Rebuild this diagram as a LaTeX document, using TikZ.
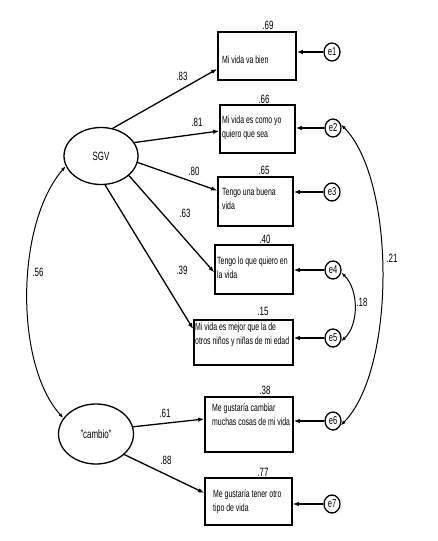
\documentclass[tikz,border=0pt]{standalone}
\usepackage{fontspec}
\setmainfont{Liberation Sans}[FakeStretch=0.66]
\usetikzlibrary{arrows.meta,shapes.geometric}
\tikzset{
  box/.style={draw, line width=1.6pt, rectangle, inner sep=0pt},
  itemtext/.style={anchor=west, align=left, inner sep=0pt, font=\fontsize{10.5}{13.5}\selectfont},
  latent/.style={draw, ellipse, line width=1.3pt, inner sep=0pt, font=\fontsize{12}{14}\selectfont},
  err/.style={draw, ellipse, line width=1.3pt, minimum width=16pt, minimum height=18pt, inner sep=0pt, font=\fontsize{11.5}{13}\selectfont},
  num/.style={inner sep=0pt, font=\fontsize{12}{14}\selectfont},
  arr/.style={-{Latex[length=6pt,width=4.5pt]}, line width=1.3pt},
  cov/.style={{Latex[length=5pt,width=3.5pt]}-{Latex[length=5pt,width=3.5pt]}, line width=1pt},
}
\begin{document}
\begin{tikzpicture}[x=1pt,y=-1pt]
\useasboundingbox (0,0) rectangle (437,541);
% boxes
\node[box, minimum width=78pt, minimum height=48pt] (b1) at (257,56) {};
\node[box, minimum width=75pt, minimum height=48pt] (b2) at (257.5,129) {};
\node[box, minimum width=75pt, minimum height=49pt] (b3) at (255.5,201.5) {};
\node[box, minimum width=78pt, minimum height=49pt] (b4) at (254,269.5) {};
\node[box, minimum width=99pt, minimum height=45pt] (b5) at (243.5,342.5) {};
\node[box, minimum width=88pt, minimum height=55pt] (b6) at (249,424.5) {};
\node[box, minimum width=87pt, minimum height=47pt] (b7) at (248.5,501.5) {};
% box texts
\node[itemtext] (t1) at (222,60) {Mi vida va bien};
\node[itemtext] (t2) at (222,128) {Mi vida es como yo\\quiero que sea};
\node[itemtext] (t3) at (222,198.5) {Tengo una buena\\vida};
\node[itemtext] (t4) at (217,267.5) {Tengo lo que quiero en\\la vida};
\node[itemtext] (t5) at (195,335) {Mi vida es mejor que la de\\otros niños y niñas de mi edad};
\node[itemtext] (t6) at (212,414.5) {Me gustaría cambiar\\muchas cosas de mi vida};
\node[itemtext] (t7) at (213,501.5) {Me gustaría tener otro\\tipo de vida};
% R2 labels
\node[num] (r1) at (268,25) {.69};
\node[num] (r2) at (264,99) {.66};
\node[num] (r3) at (264,170) {.65};
\node[num] (r4) at (265,239) {.40};
\node[num] (r5) at (263,311) {.15};
\node[num] (r6) at (265,390) {.38};
\node[num] (r7) at (263,472) {.77};
% latents
\node[latent, minimum width=74pt, minimum height=57pt] (SGV) at (101,156) {SGV};
\node[latent, minimum width=75pt, minimum height=60pt] (cambio) at (96,434) {"cambio"};
% errors
\node[err] (e1) at (332,52) {e1};
\node[err] (e2) at (333,128) {e2};
\node[err] (e3) at (332,192) {e3};
\node[err] (e4) at (333,270) {e4};
\node[err] (e5) at (333,338) {e5};
\node[err] (e6) at (333,421) {e6};
\node[err] (e7) at (332,504) {e7};
% error arrows
\foreach \i in {1,...,7} {\draw[arr] (e\i) -- (b\i.east |- e\i);}
% loadings
\draw[arr] (SGV.67) -- (b1.198);
\draw[arr] (SGV.22) -- (b2.183);
\draw[arr] (SGV.350) -- (b3.164);
\draw[arr] (SGV.325) -- (b4.184);
\draw[arr] (SGV.278) -- (b5.165);
\draw[arr] (cambio.11) -- (b6.173);
\draw[arr] (cambio.324) -- (b7.169);
\node[num] (l1) at (182,76) {.83};
\node[num] (l2) at (197,122) {.81};
\node[num] (l3) at (194,171) {.80};
\node[num] (l4) at (185,213) {.63};
\node[num] (l5) at (182,270) {.39};
\node[num] (l6) at (165,413) {.61};
\node[num] (l7) at (166,460) {.88};
% covariances
\draw[cov] (SGV.196) .. controls (15,225) and (15,365) .. (cambio.154);
\draw[cov] (e2.23) .. controls (396,180) and (396,370) .. (e6.330);
\draw[cov] (e4.343) .. controls (359,290) and (359,325) .. (e5.338);
\node[num] (c1) at (38,272) {.56};
\node[num] (c2) at (392,258) {.21};
\node[num] (c3) at (362,302) {.18};
\end{tikzpicture}
\end{document}
